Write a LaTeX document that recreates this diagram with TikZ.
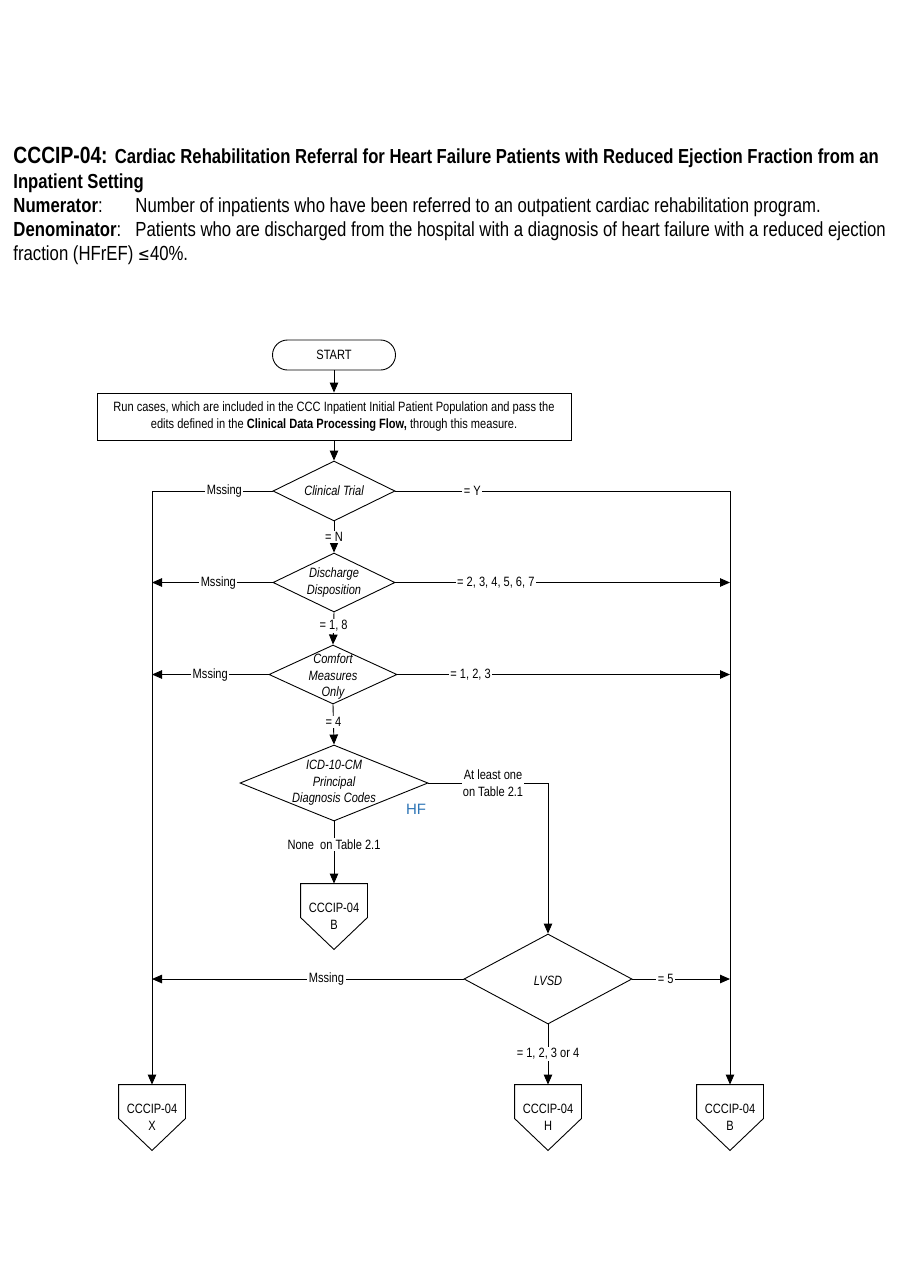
\documentclass[tikz,border=0pt]{standalone}
\usepackage{fontspec}
\setmainfont{Liberation Sans}
\newfontfamily\nar{Liberation Sans}[FakeStretch=0.82]
\usetikzlibrary{arrows.meta,shapes.geometric,calc}
\definecolor{hfblue}{RGB}{46,117,182}
\begin{document}
\begin{tikzpicture}[x=1pt,y=-1pt,
  line width=0.9pt,
  dfont/.style={font=\fontsize{13.5}{16.5}\selectfont\nar},
  arr/.style={-{Triangle[length=10pt,width=8.5pt]}},
  lab/.style={dfont,fill=white,inner sep=1.5pt},
  dia/.style={draw,diamond,inner sep=0pt,aspect=2},
  dtext/.style={align=center,font=\fontsize{13.5}{16.5}\selectfont\nar\itshape},
  opg/.style={dfont,align=center,minimum width=66pt,minimum height=65pt,inner sep=0pt,text depth=0pt},
  head/.style={anchor=base west,inner sep=0pt}
]
\useasboundingbox (0,0) rectangle (900,1286);
\fill[white] (0,0) rectangle (900,1286);
% header
\node[head] (t1) at (13,163) {\nar\bfseries\fontsize{23.5}{26}\selectfont CCCIP-04: \fontsize{20.3}{24}\selectfont Cardiac Rehabilitation Referral for Heart Failure Patients with Reduced Ejection Fraction from an};
\node[head] (t2) at (13,188) {\nar\bfseries\fontsize{20.3}{24}\selectfont Inpatient Setting};
\node[head] (n1) at (13,212) {\nar\fontsize{20.4}{24}\selectfont\textbf{Numerator}:};
\node[head] (n2) at (135,212) {\nar\fontsize{20.4}{24}\selectfont Number of inpatients who have been referred to an outpatient cardiac rehabilitation program.};
\node[head] (d1) at (13,236) {\nar\fontsize{20.4}{24}\selectfont\textbf{Denominator}:};
\node[head] (d2) at (135,236) {\nar\fontsize{20.4}{24}\selectfont Patients who are discharged from the hospital with a diagnosis of heart failure with a reduced ejection};
\node[head] (d3) at (13,260) {\nar\fontsize{20.4}{24}\selectfont fraction (HFrEF) {\fontspec{DejaVu Sans}[FakeStretch=0.82]\fontsize{17.5}{24}\selectfont ≤}40\%.};
% nodes
\node[draw,rounded corners=15pt,minimum width=123pt,minimum height=30pt,dfont] (start) at (334,355) {START};
\node[draw,minimum width=474pt,minimum height=47pt,dfont,align=center] (box) at (334,416.5) {Run cases, which are included in the CCC Inpatient Initial Patient Population and pass the\\edits defined in the \textbf{Clinical Data Processing Flow,} through this measure.};
\node[dia,minimum width=122pt,minimum height=60pt] (ct) at (334,491) {};
\node[dtext] at (ct) {Clinical Trial};
\node[dia,minimum width=122pt,minimum height=59pt] (dd) at (334,582.5) {};
\node[dtext] at (dd) {Discharge\\Disposition};
\node[dia,minimum width=128pt,minimum height=59pt] (cm) at (333,674.5) {};
\node[dtext] at ($(cm)+(0,2)$) {Comfort\\Measures\\Only};
\node[dia,minimum width=188pt,minimum height=76pt] (icd) at (334,783) {};
\node[dtext] at (icd) {ICD-10-CM\\Principal\\Diagnosis Codes};
\node[font=\fontsize{15}{18}\selectfont,text=hfblue] (hf) at (416,809) {HF};
\node[dia,minimum width=168pt,minimum height=90pt] (lv) at (548,979) {};
\node[dtext] at ($(lv)+(0,2)$) {LVSD};
% off-page connectors
\node[opg] (b1) at (334,916.5) {CCCIP-04\\B};
\node[opg] (xo) at (152,1117.5) {CCCIP-04\\X};
\node[opg] (ho) at (548,1117.5) {CCCIP-04\\H};
\node[opg] (bo) at (730,1117.5) {CCCIP-04\\B};
\foreach \n in {b1,xo,ho,bo}{
  \draw (\n.north west) -- (\n.north east) -- ($(\n.east)+(0,1)$) -- (\n.south) -- ($(\n.west)+(0,1)$) -- cycle;
}
% coordinates
\coordinate (tl) at (152,491);
\coordinate (tr) at (730,491);
\coordinate (l2) at (152,582.5);
\coordinate (r2) at (730,582.5);
\coordinate (l3) at (152,674.5);
\coordinate (r3) at (730,674.5);
\coordinate (ir) at (548,783);
\coordinate (l5) at (152,979);
\coordinate (r5) at (730,979);
% connectors
\draw[arr] (start) -- (box);
\draw[arr] (box) -- (ct);
\draw[arr] (ct.west) -- node[lab,pos=0.4]{Mssing} (tl) -- (xo.north);
\draw[arr] (ct.east) -- node[lab,pos=0.23]{= Y} (tr) -- (bo.north);
\draw[arr] (ct.south) -- node[lab,pos=0.5]{= N} (dd.north);
\draw[arr] (dd.west) -- node[lab,pos=0.45]{Mssing} (l2);
\draw[arr] (dd.east) -- node[lab,pos=0.3]{= 2, 3, 4, 5, 6, 7} (r2);
\draw[arr] (dd.south) -- node[lab,pos=0.42]{= 1, 8} (cm.north);
\draw[arr] (cm.west) -- node[lab,pos=0.5]{Mssing} (l3);
\draw[arr] (cm.east) -- node[lab,pos=0.22]{= 1, 2, 3} (r3);
\draw[arr] (cm.south) -- node[lab,pos=0.44]{= 4} (icd.north);
\draw[arr] (icd.east) -- node[lab,pos=0.54,align=center,inner sep=0.5pt]{At least one\\on Table 2.1} (ir) -- (lv.north);
\draw[arr] (icd.south) -- node[lab,pos=0.37]{None\ \ on Table 2.1} (b1.north);
\draw[arr] (lv.west) -- node[lab,pos=0.44]{Mssing} (l5);
\draw[arr] (lv.east) -- node[lab,pos=0.34]{= 5} (r5);
\draw[arr] (lv.south) -- node[lab,pos=0.49]{= 1, 2, 3 or 4} (ho.north);
\end{tikzpicture}
\end{document}
